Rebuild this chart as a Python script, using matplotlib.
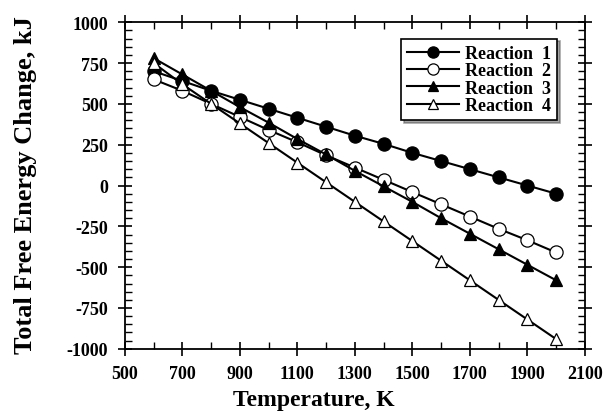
""" Total free energy change vs temperature for four reactions """

import matplotlib.pyplot as plt
from matplotlib.ticker import MultipleLocator

plt.rcParams['font.family'] = ['Liberation Serif', 'DejaVu Serif']
plt.rcParams['font.weight'] = 'bold'
plt.rcParams['axes.unicode_minus'] = False

temperature = [600, 700, 800, 900, 1000, 1100, 1200, 1300,
               1400, 1500, 1600, 1700, 1800, 1900, 2000]
reaction_1 = [700, 640, 580, 525, 470, 415, 360, 305,
              255, 200, 150, 100, 50, 0, -50]
reaction_2 = [650, 580, 500, 420, 340, 265, 185, 110,
              35, -40, -115, -190, -265, -335, -410]
reaction_3 = [780, 680, 580, 480, 385, 285, 190, 90,
              -5, -100, -200, -295, -390, -485, -580]
reaction_4 = [750, 620, 500, 380, 260, 140, 20, -100,
              -220, -340, -460, -580, -700, -820, -940]
x_ticks = [500, 700, 900, 1100, 1300, 1500, 1700, 1900, 2100]

fig = plt.figure(figsize=(6.06, 4.14), dpi=100)
ax = fig.add_axes([0.206, 0.155, 0.759, 0.789])

series = [['Reaction  1', reaction_1, 'o', 'black', 9.5],
          ['Reaction  2', reaction_2, 'o', 'white', 9.5],
          ['Reaction  3', reaction_3, '^', 'black', 8],
          ['Reaction  4', reaction_4, '^', 'white', 8]]
for label, vals, marker, face, ms in series:
    ax.plot(temperature, vals, color='black', lw=1.5, marker=marker,
            markersize=ms, markerfacecolor=face, markeredgecolor='black',
            markeredgewidth=0.9, label=label)

ax.set_xlim(500, 2100)
ax.set_ylim(-1000, 1000)
ax.set_xticks(x_ticks)
ax.xaxis.set_minor_locator(MultipleLocator(100))
ax.yaxis.set_major_locator(MultipleLocator(250))
ax.yaxis.set_minor_locator(MultipleLocator(50))
ax.tick_params(which='major', direction='inout', length=10, width=1.2,
               top=True, right=True, labelsize=13, pad=7)
ax.tick_params(which='minor', direction='in', length=5, width=1,
               top=True, right=True)
for spine in ax.spines.values():
    spine.set_linewidth(1.3)

ax.set_xlabel('Temperature, K', fontsize=17, fontweight='bold')
ax.xaxis.set_label_coords(0.41, -0.156)
ax.xaxis.label.set_va('center')
ax.set_ylabel('Total Free Energy Change, kJ', fontsize=19,
              fontweight='bold')
ax.yaxis.set_label_coords(-0.217, 0.505)
ax.yaxis.label.set_va('center')

leg = ax.legend(loc='upper right', bbox_to_anchor=(0.94, 0.95),
                fontsize=13, frameon=True, shadow=True, fancybox=False,
                markerscale=0.85, handlelength=2.9, handletextpad=0.3,
                borderpad=0.35, labelspacing=0.02, borderaxespad=0)
leg.get_frame().set_edgecolor('black')
leg.get_frame().set_linewidth(1.2)

fig.savefig('out.png', dpi=100)
plt.close()
